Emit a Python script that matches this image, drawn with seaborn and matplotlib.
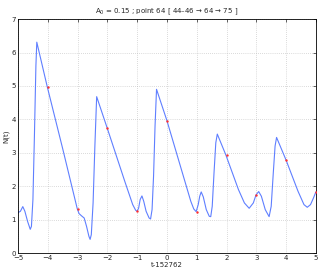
import numpy as np
import pandas as pd
import matplotlib
matplotlib.use("Agg")
import matplotlib.pyplot as plt
import seaborn as sns

# curve (t - 152762, N(t))
t_vals = [-5.00, -4.92, -4.84, -4.77, -4.68, -4.59, -4.55, -4.50, -4.45, -4.40, -4.37,
          -4.02, -3.50, -3.01, -2.95, -2.85, -2.78, -2.70, -2.62, -2.58, -2.54, -2.48,
          -2.42, -2.36, -2.01, -1.41, -1.15, -1.05, -1.00, -0.95, -0.90, -0.84, -0.78,
          -0.70, -0.60, -0.55, -0.50, -0.45, -0.40, -0.35, 0.00, 0.80, 0.90, 0.98,
          1.05, 1.10, 1.15, 1.22, 1.32, 1.42, 1.47, 1.52, 1.58, 1.64, 1.69, 1.98,
          2.40, 2.60, 2.76, 2.90, 2.99, 3.08, 3.17, 3.30, 3.43, 3.50, 3.57, 3.63,
          3.68, 4.00, 4.40, 4.60, 4.71, 4.82, 4.92, 5.00]
n_vals = [1.21, 1.25, 1.39, 1.25, 0.95, 0.71, 0.80, 1.60, 3.50, 5.60, 6.31,
          4.98, 3.12, 1.32, 1.18, 1.10, 1.05, 0.80, 0.50, 0.41, 0.55, 1.50,
          3.20, 4.68, 3.75, 2.13, 1.45, 1.28, 1.25, 1.35, 1.60, 1.71, 1.55,
          1.25, 1.05, 1.02, 1.30, 2.30, 3.80, 4.90, 3.96, 1.55, 1.32, 1.24,
          1.45, 1.70, 1.83, 1.68, 1.30, 1.10, 1.09, 1.40, 2.40, 3.30, 3.56, 2.93,
          1.90, 1.50, 1.34, 1.50, 1.74, 1.84, 1.70, 1.30, 1.09, 1.40, 2.40, 3.20,
          3.46, 2.78, 1.85, 1.45, 1.37, 1.45, 1.65, 1.83]

# sampled points (red markers)
pt_t = [-4, -3, -2, -1, 0, 1, 2, 3, 4, 5]
pt_n = [4.98, 1.32, 3.75, 1.25, 3.96, 1.24, 2.93, 1.74, 2.78, 1.83]

curve = pd.DataFrame({"t": t_vals, "N": n_vals})
pts = pd.DataFrame({"t": pt_t, "N": pt_n})

sns.set_style("white")
plt.rcParams["font.family"] = ["DejaVu Sans"]

fig = plt.figure(figsize=(3.22, 2.73), dpi=100)
ax = fig.add_axes([0.056, 0.073, 0.925, 0.857])

sns.lineplot(data=curve, x="t", y="N", ax=ax, color="#5f7fff", lw=0.8, sort=False)
sns.scatterplot(data=pts, x="t", y="N", ax=ax, color="#ff3030", s=3, linewidth=0, zorder=3)

ax.set_xlim(-5, 5)
ax.set_ylim(0, 7)
ax.set_xticks(range(-5, 6))
ax.set_yticks(range(0, 8))
ax.grid(True, linestyle=(0, (1, 2)), color="#b8b8b8", linewidth=0.5)
ax.tick_params(direction="in", length=2, width=0.5, labelsize=5, pad=1.5,
               top=True, right=True)
for s in ax.spines.values():
    s.set_linewidth(0.6)
    s.set_color("black")

ax.set_xlabel("t-152762", fontsize=5, labelpad=0.5)
ax.set_ylabel("N(t)", fontsize=5, labelpad=1.5)
ax.set_title(r"A$_0$ = 0.15 ; point 64 [ 44–46 → 64 → 75 ]", fontsize=5, pad=4)

fig.savefig("out.png", dpi=100)
